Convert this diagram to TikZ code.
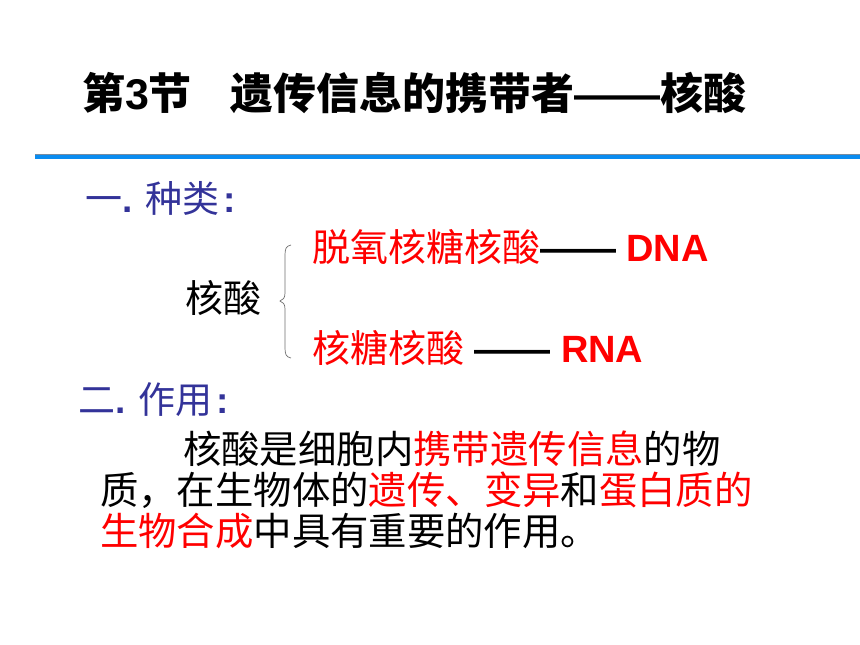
\documentclass[tikz,border=0pt]{standalone}
\usepackage{fontspec}
\setmainfont{Liberation Sans}
\newfontfamily\cjk{Noto Sans CJK SC}
\definecolor{headblue}{RGB}{51,51,153}
\definecolor{linetop}{RGB}{120,140,160}
\definecolor{lineblue}{RGB}{10,140,240}
\definecolor{txtred}{RGB}{255,0,0}
\definecolor{bracegray}{RGB}{110,110,110}
\tikzset{
  txt/.style={anchor=base west, inner sep=0pt, outer sep=0pt},
  titletxt/.style={txt, font=\fontsize{43}{43}\selectfont\cjk\bfseries},
  headtxt/.style={txt, text=headblue, font=\fontsize{37}{37}\selectfont\cjk},
  bodytxt/.style={txt, text=black, font=\fontsize{38}{38}\selectfont\cjk},
  paratxt/.style={txt, text=black, font=\fontsize{38.4}{38.4}\selectfont\cjk},
}
\newcommand{\rd}[1]{\textcolor{txtred}{#1}}
\newcommand{\ltb}[1]{{\rmfamily\bfseries #1}}
\begin{document}
\begin{tikzpicture}[x=1pt,y=-1pt]
\useasboundingbox (0,0) rectangle (860,645);
% title
\node[titletxt] (title) at (82,109) {第\ltb{3}节\hspace{0.9em}遗传信息的携带者\ltb{——}核酸};
% rule
\fill[lineblue] (35,154.5) rectangle (860,159);
\draw[linetop, line width=0.8pt] (35,154.5) -- (860,154.5);
% heading 1
\node[headtxt] (h1) at (85,212) {一\ltb{. }种类\hspace{0.1em}\ltb{:}};
% nucleic acid
\node[bodytxt] (na) at (185,312) {核酸};
\draw[bracegray, line width=0.7pt] (291,245) .. controls (286,246) and (285,249) .. (285,255)
  -- (285,293) .. controls (285,298) and (283,300) .. (280,301)
  .. controls (283,302) and (285,304) .. (285,309)
  -- (285,348) .. controls (285,354) and (286,357) .. (291,358);
\node[bodytxt] (dna) at (312,261) {\rd{脱氧核糖核酸}\ltb{—— \rd{DNA}}};
\node[bodytxt] (rna) at (312,362) {\rd{核糖核酸}\ltb{ —— \rd{RNA}}};
% heading 2
\node[headtxt] (h2) at (78,413) {二\ltb{. }作用\hspace{0.1em}\ltb{:}};
% paragraph
\node[paratxt] (p1) at (183,463) {核酸是细胞内\rd{携带遗传信息}的物};
\node[paratxt] (p2) at (100,504) {质，在生物体的\rd{遗传、变异}和\rd{蛋白质的}};
\node[paratxt] (p3) at (100,545) {\rd{生物合成}中具有重要的作用。};
\end{tikzpicture}
\end{document}
